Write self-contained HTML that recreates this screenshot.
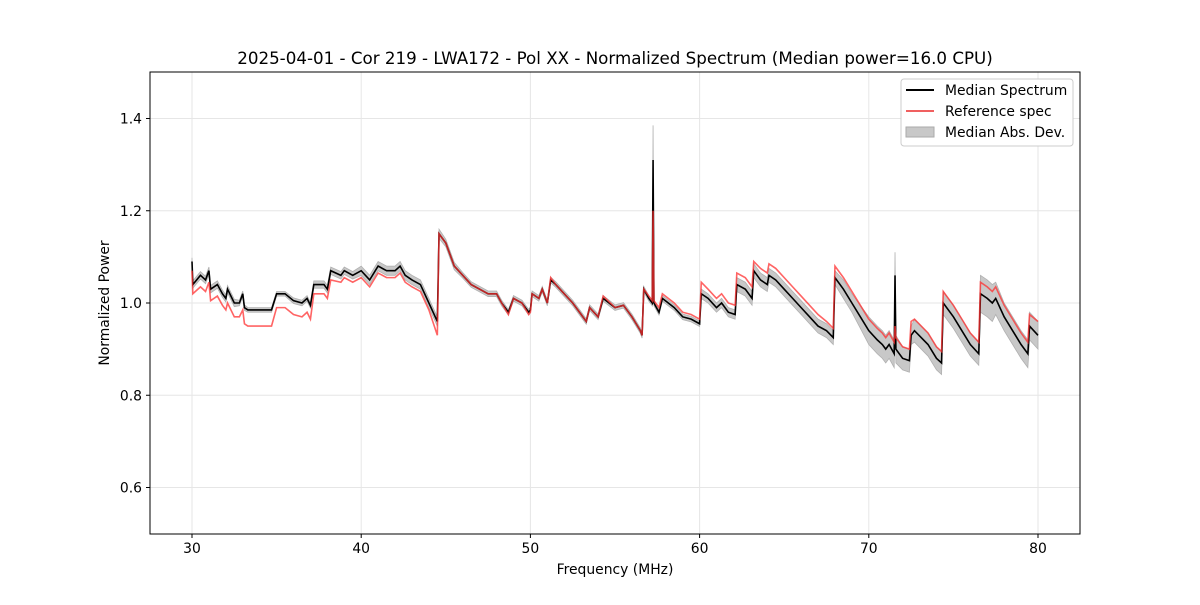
<!DOCTYPE html>
<html><head><meta charset="utf-8"><style>
body{margin:0;background:#fff;font-family:"Liberation Sans","DejaVu Sans",sans-serif}
svg text{font-family:"DejaVu Sans","Liberation Sans",sans-serif}
</style></head><body>
<svg id="chart" width="1200" height="600" xmlns="http://www.w3.org/2000/svg">
<rect width="1200" height="600" fill="#fff"/>
<text x="615" y="64" font-size="16.7" text-anchor="middle">2025-04-01 - Cor 219 - LWA172 - Pol XX - Normalized Spectrum (Median power=16.0 CPU)</text>
<g id="grid"></g>
<g id="plot"></g>
<rect x="150" y="72" width="930" height="462" fill="none" stroke="#000" stroke-width="1"/>
<g id="axes"></g>
<text x="615" y="574" font-size="13.9" text-anchor="middle">Frequency (MHz)</text>
<text x="109" y="303" font-size="13.9" text-anchor="middle" transform="rotate(-90 109 303)">Normalized Power</text>
<g>
<rect x="901" y="79" width="172" height="67" fill="#fff" stroke="#ccc" rx="3"/>
<line x1="906" y1="90" x2="934" y2="90" stroke="#000" stroke-width="2"/>
<text x="945" y="95" font-size="13.9">Median Spectrum</text>
<line x1="906" y1="111" x2="934" y2="111" stroke="#f06060" stroke-width="2"/>
<text x="945" y="116" font-size="13.9">Reference spec</text>
<rect x="906" y="127" width="28" height="10" fill="#c8c8c8" stroke="#aaa"/>
<text x="945" y="137" font-size="13.9">Median Abs. Dev.</text>
</g>
</svg>
<script>
const freqs=[30.0,30.05,30.5,30.8,31.0,31.1,31.5,31.8,32.0,32.1,32.5,32.8,33.0,33.1,33.3,34.7,35.0,35.5,36.0,36.5,36.8,37.0,37.2,37.8,38.0,38.2,38.8,39.0,39.5,40.0,40.5,41.0,41.5,42.0,42.3,42.6,43.0,43.5,44.0,44.5,44.6,45.0,45.5,46.0,46.5,47.0,47.5,48.0,48.3,48.7,49.0,49.5,49.9,50.0,50.1,50.5,50.7,51.0,51.2,51.5,52.0,52.5,53.0,53.3,53.5,54.0,54.3,55.0,55.5,56.0,56.5,56.6,56.7,57.0,57.2,57.25,57.3,57.6,57.8,58.5,59.0,59.5,60.0,60.1,60.5,61.0,61.3,61.7,62.1,62.2,62.7,63.1,63.2,63.6,64.0,64.1,64.5,65.0,65.5,66.0,66.5,67.0,67.5,67.9,68.0,68.5,69.0,69.5,70.0,70.5,70.8,71.0,71.2,71.5,71.55,71.6,72.0,72.4,72.5,72.7,73.5,74.0,74.3,74.4,75.0,75.5,76.0,76.5,76.6,77.0,77.3,77.5,78.0,78.5,79.0,79.4,79.5,80.0];
const median=[1.09,1.04,1.06,1.05,1.07,1.03,1.04,1.02,1.01,1.03,1.0,1.0,1.02,0.99,0.985,0.985,1.02,1.02,1.005,1.0,1.01,0.995,1.04,1.04,1.03,1.07,1.06,1.07,1.06,1.07,1.05,1.08,1.07,1.07,1.08,1.06,1.05,1.04,1.0,0.96,1.15,1.13,1.08,1.06,1.04,1.03,1.02,1.02,1.0,0.98,1.01,1.0,0.98,0.985,1.02,1.01,1.03,1.0,1.05,1.04,1.02,1.0,0.975,0.96,0.99,0.97,1.01,0.99,0.995,0.97,0.94,0.93,1.03,1.01,1.0,1.31,1.0,0.98,1.01,0.99,0.97,0.965,0.955,1.02,1.01,0.99,1.0,0.98,0.975,1.04,1.03,1.01,1.07,1.05,1.04,1.06,1.05,1.03,1.01,0.99,0.97,0.95,0.94,0.925,1.055,1.03,1.0,0.97,0.94,0.92,0.91,0.9,0.91,0.89,1.06,0.9,0.88,0.875,0.93,0.94,0.91,0.88,0.87,1.0,0.97,0.94,0.91,0.89,1.02,1.01,1.0,1.01,0.97,0.94,0.91,0.89,0.95,0.93];
const reference=[1.07,1.02,1.035,1.025,1.045,1.005,1.015,0.995,0.985,1.0,0.97,0.97,0.985,0.955,0.95,0.95,0.99,0.99,0.975,0.97,0.98,0.965,1.02,1.02,1.01,1.05,1.045,1.055,1.045,1.055,1.035,1.065,1.055,1.055,1.065,1.045,1.035,1.025,0.985,0.93,1.15,1.13,1.08,1.06,1.04,1.03,1.02,1.02,1.0,0.975,1.01,1.0,0.975,0.98,1.02,1.01,1.03,1.0,1.055,1.04,1.02,1.0,0.975,0.96,0.99,0.97,1.015,0.99,0.995,0.97,0.94,0.93,1.03,1.015,1.005,1.2,1.005,0.99,1.02,1.0,0.98,0.975,0.965,1.045,1.03,1.01,1.02,1.0,0.995,1.065,1.055,1.035,1.09,1.075,1.065,1.085,1.075,1.055,1.035,1.015,0.995,0.975,0.96,0.945,1.08,1.055,1.025,0.995,0.965,0.945,0.935,0.925,0.935,0.915,0.95,0.925,0.905,0.9,0.96,0.965,0.935,0.905,0.895,1.025,0.995,0.965,0.935,0.915,1.045,1.035,1.025,1.035,0.995,0.965,0.935,0.915,0.975,0.96];
const mad=[0.008,0.008,0.008,0.008,0.008,0.008,0.008,0.008,0.008,0.008,0.008,0.006,0.006,0.006,0.005,0.005,0.005,0.005,0.006,0.006,0.006,0.006,0.008,0.008,0.008,0.008,0.008,0.008,0.008,0.01,0.01,0.01,0.01,0.01,0.01,0.01,0.01,0.01,0.01,0.01,0.01,0.008,0.008,0.006,0.006,0.006,0.006,0.006,0.006,0.006,0.006,0.006,0.006,0.006,0.006,0.006,0.006,0.006,0.006,0.006,0.006,0.006,0.006,0.006,0.006,0.006,0.006,0.006,0.006,0.006,0.006,0.006,0.006,0.006,0.006,0.075,0.006,0.006,0.006,0.006,0.006,0.006,0.006,0.01,0.01,0.01,0.01,0.01,0.01,0.015,0.015,0.015,0.015,0.015,0.015,0.015,0.015,0.015,0.015,0.015,0.015,0.015,0.015,0.015,0.015,0.02,0.02,0.025,0.03,0.03,0.03,0.03,0.03,0.03,0.05,0.03,0.025,0.025,0.02,0.025,0.025,0.025,0.025,0.025,0.025,0.025,0.025,0.025,0.04,0.04,0.04,0.035,0.03,0.03,0.03,0.03,0.03,0.03];
const xTicks=[30,40,50,60,70,80];
const yTicks=[0.6,0.8,1.0,1.2,1.4];
const NS="http://www.w3.org/2000/svg";
function xs(f){return 192+(f-30)*16.92;}
function ys(v){return 303-(v-1)*461.25;}
function mk(tag,attrs,parent){const e=document.createElementNS(NS,tag);for(const k in attrs)e.setAttribute(k,attrs[k]);parent.appendChild(e);return e;}
const grid=document.getElementById('grid'),axes=document.getElementById('axes'),plot=document.getElementById('plot');
xTicks.forEach(t=>{const x=xs(t);
 const g=mk('line',{x1:x,x2:x,y1:72,y2:534,stroke:'#e6e6e6'},grid);
 
 
 mk('line',{x1:x,x2:x,y1:534,y2:538,stroke:'#000'},axes);
 const tx=mk('text',{x:x,y:553,'font-size':13.9,'text-anchor':'middle'},axes);tx.textContent=t;
 
 
});
yTicks.forEach(t=>{const y=ys(t);
 const g=mk('line',{x1:150,x2:1080,y1:y,y2:y,stroke:'#e6e6e6'},grid);
 
 
 mk('line',{x1:146,x2:150,y1:y,y2:y,stroke:'#000'},axes);
 const tx=mk('text',{x:142,y:y+5,'font-size':13.9,'text-anchor':'end'},axes);tx.textContent=t.toFixed(1);
 
 
});
let up=[],dn=[];
freqs.forEach((f,i)=>{up.push(xs(f)+','+ys(median[i]+mad[i]));dn.unshift(xs(f)+','+ys(median[i]-mad[i]));});
const band=mk('polygon',{points:up.concat(dn).join(' '),fill:'#c8c8c8',stroke:'#b0b0b0','stroke-width':0.8},plot);


const medPath=mk('polyline',{points:freqs.map((f,i)=>xs(f)+','+ys(median[i])).join(' '),fill:'none',stroke:'#000','stroke-width':1.6},plot);


const refPath=mk('polyline',{points:freqs.map((f,i)=>xs(f)+','+ys(reference[i])).join(' '),fill:'none',stroke:'#ff3030','stroke-opacity':0.75,'stroke-width':1.6},plot);


</script>
</body></html>
